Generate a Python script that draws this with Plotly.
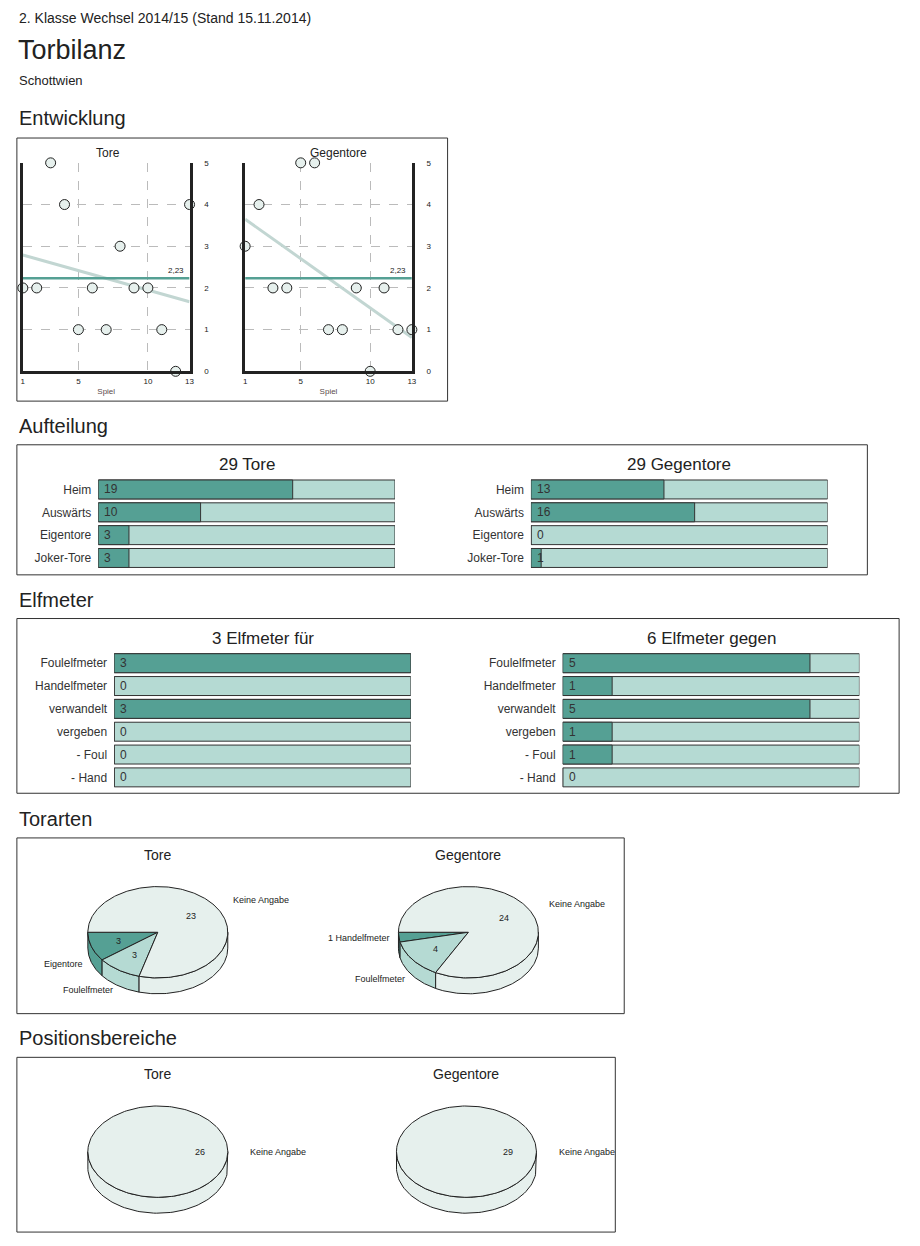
import numpy as np
import plotly.graph_objects as go

W, H = 920, 1246
DARK = "#55a094"
LIGHT = "#b5dad3"
PALE = "#e6f0ed"
FONT = "Liberation Sans, Arial, sans-serif"

# ---------------- data ----------------
spiele = list(range(1, 14))
tore_pro_spiel = [2, 2, 5, 4, 1, 2, 1, 3, 2, 2, 1, 0, 4]
gegentore_pro_spiel = [3, 4, 2, 2, 5, 5, 1, 1, 2, 0, 2, 1, 1]

auft_cats = ["Heim", "Auswärts", "Eigentore", "Joker-Tore"]
auft_tore = [19, 10, 3, 3]
auft_gegen = [13, 16, 0, 1]
total_tore = 29
total_gegen = 29

elf_cats = ["Foulelfmeter", "Handelfmeter", "verwandelt", "vergeben", "- Foul", "- Hand"]
elf_fuer = [3, 0, 3, 0, 0, 0]
elf_gegen = [5, 1, 5, 1, 1, 0]
elf_fuer_total = 3
elf_gegen_total = 6

art_labels_tore = ["Eigentore", "Foulelfmeter", "Keine Angabe"]
art_values_tore = [3, 3, 23]
art_labels_gegen = ["Handelfmeter", "Foulelfmeter", "Keine Angabe"]
art_values_gegen = [1, 4, 24]
art_colors = [DARK, LIGHT, PALE]

pos_labels = ["Keine Angabe"]
pos_values_tore = [26]
pos_values_gegen = [29]

fig = go.Figure()

def xd(a, b):
    return [a / W, b / W]

def yd(top, bot):
    return [1 - bot / H, 1 - top / H]

# pixel overlay axes (x, y)
fig.update_layout(
    xaxis=dict(domain=[0, 1], range=[0, W], visible=False, fixedrange=True),
    yaxis=dict(domain=[0, 1], range=[H, 0], visible=False, fixedrange=True),
)

shapes, ann = [], []

def txt(x, y, s, size=12, anchor="left", color="#222"):
    ann.append(dict(x=x, y=y, xref="x", yref="y", text=s, showarrow=False,
                    xanchor=anchor, yanchor="middle", font=dict(size=size, color=color, family=FONT)))

def box(x0, y0, x1, y1):
    shapes.append(dict(type="rect", xref="x", yref="y", x0=x0, y0=y0, x1=x1, y1=y1,
                       line=dict(color="#333", width=1), layer="below"))

txt(15, 14, "2. Klasse Wechsel 2014/15 (Stand 15.11.2014)", 14)
txt(14, 46, "Torbilanz", 27)
txt(15, 77, "Schottwien", 13)
for y, s in [(115, "Entwicklung"), (425, "Aufteilung"), (600, "Elfmeter"),
             (821, "Torarten"), (1042, "Positionsbereiche")]:
    txt(15, y, s, 20)
box(15, 135, 449, 400)
box(15, 444, 872, 575)
box(15, 619, 904, 795)
box(15, 840, 627, 1017)
box(15, 1061, 618, 1237)

# ---------------- line charts ----------------
def line_chart(n, x0, x1, values, title, cx):
    xa, ya = f"x{n}", f"y{n}"
    vals = np.array(values, dtype=float)
    xs = np.array(spiele, dtype=float)
    m, b = np.polyfit(xs, vals, 1)
    mean = vals.mean()
    fig.add_trace(go.Scatter(x=[xs[0], xs[-1]], y=[m * xs[0] + b, m * xs[-1] + b], mode="lines",
                             line=dict(color="#c2d6d2", width=3), xaxis=xa, yaxis=ya, hoverinfo="skip"))
    fig.add_trace(go.Scatter(x=[xs[0], xs[-1]], y=[mean, mean], mode="lines",
                             line=dict(color=DARK, width=2.5), xaxis=xa, yaxis=ya, hoverinfo="skip"))
    fig.add_trace(go.Scatter(x=xs, y=vals, mode="markers", cliponaxis=False,
                             marker=dict(size=10, color=PALE, line=dict(color="#222", width=1)),
                             xaxis=xa, yaxis=ya))
    ann.append(dict(x=xs[-1], y=mean, xref=xa, yref=ya, text=f"{mean:.2f}".replace(".", ","),
                    showarrow=False, xanchor="right", yanchor="bottom", xshift=-4, yshift=1,
                    font=dict(size=8, color="#222", family=FONT)))
    txt(cx, 150, title, 12)
    fig.layout[f"xaxis{n}"] = dict(domain=xd(x0, x1), range=[1, 13], tickvals=[1, 5, 10, 13],
                                   showgrid=True, gridcolor="#bbb", griddash="dash", gridwidth=1,
                                   showline=True, linecolor="#222", linewidth=3, zeroline=False,
                                   tickfont=dict(size=8, color="#222", family=FONT), ticks="",
                                   title=dict(text="Spiel", font=dict(size=8, color="#5a4a4a", family=FONT), standoff=4),
                                   anchor=ya, fixedrange=True)
    fig.layout[f"yaxis{n}"] = dict(domain=yd(160, 370), range=[0, 5], tickvals=[0, 1, 2, 3, 4, 5],
                                   side="right", showgrid=True, gridcolor="#bbb", griddash="dash",
                                   showline=True, mirror=True, linecolor="#222", linewidth=3,
                                   zeroline=False, ticks="", ticklabelstandoff=10,
                                   tickfont=dict(size=8, color="#222", family=FONT),
                                   anchor=xa, fixedrange=True)

line_chart(2, 21, 189, tore_pro_spiel, "Tore", 105 - 12)
line_chart(3, 245, 413, gegentore_pro_spiel, "Gegentore", 338 - 30)

# ---------------- bar charts ----------------
def bar_chart(n, x0, x1, top, bot, cats, values, total, title, title_y):
    xa, ya = f"x{n}", f"y{n}"
    fig.add_trace(go.Bar(y=cats, x=[total] * len(cats), orientation="h", marker=dict(color=LIGHT, line=dict(color="#333", width=1)),
                         width=0.83, xaxis=xa, yaxis=ya, hoverinfo="skip"))
    fig.add_trace(go.Bar(y=cats, x=values, orientation="h", marker=dict(color=DARK, line=dict(color="#333", width=1)),
                         width=0.83, xaxis=xa, yaxis=ya))
    for c, v in zip(cats, values):
        ann.append(dict(x=0, y=c, xref=xa, yref=ya, text=str(v), showarrow=False, xanchor="left",
                        xshift=4, font=dict(size=12, color="#333", family=FONT)))
    ann.append(dict(x=(x0 + x1) / 2, y=title_y, xref="x", yref="y", text=title, showarrow=False,
                    font=dict(size=17, color="#222", family=FONT)))
    fig.layout[f"xaxis{n}"] = dict(domain=xd(x0, x1), range=[0, total], visible=False, anchor=ya, fixedrange=True)
    fig.layout[f"yaxis{n}"] = dict(domain=yd(top, bot), autorange="reversed", anchor=xa, ticks="",
                                   showgrid=False, showline=False, ticklabelstandoff=6,
                                   tickfont=dict(size=12, color="#333", family=FONT), fixedrange=True)

bar_chart(4, 97, 396, 477.5, 569.5, auft_cats, auft_tore, total_tore, f"{total_tore} Tore", 464)
bar_chart(5, 533, 832, 477.5, 569.5, auft_cats, auft_gegen, total_gegen, f"{total_gegen} Gegentore", 464)
bar_chart(6, 113, 412, 652.5, 790.5, elf_cats, elf_fuer, elf_fuer_total, f"{elf_fuer_total} Elfmeter für", 639)
bar_chart(7, 565, 864, 652.5, 790.5, elf_cats, elf_gegen, elf_gegen_total, f"{elf_gegen_total} Elfmeter gegen", 639)

# ---------------- 3D-ish pies ----------------
RX, RY, DEPTH = 70.5, 46, 16

def ell(cx, cy, a_deg, dy=0):
    a = np.radians(a_deg)
    return cx + RX * np.cos(a), cy - RY * np.sin(a) + dy

def pie3d(cx, cy, labels, values, title):
    tot = sum(values)
    angs = [180.0]
    for v in values:
        angs.append(angs[-1] + v / tot * 360)
    cols = art_colors if len(values) > 1 else [PALE]
    # sides
    for i in range(len(values)):
        a1, a2 = max(angs[i], 180), min(angs[i + 1], 360)
        if a2 > a1:
            t = np.linspace(a1, a2, 80)
            xt, yt = ell(cx, cy, t)
            xb, yb = ell(cx, cy, t[::-1], DEPTH)
            fig.add_trace(go.Scatter(x=np.r_[xt, xb, xt[0]], y=np.r_[yt, yb, yt[0]], fill="toself",
                                     fillcolor=cols[i], mode="lines", line=dict(color="#222", width=1),
                                     hoverinfo="skip", xaxis="x", yaxis="y"))
    # tops
    for i in range(len(values)):
        t = np.linspace(angs[i], angs[i + 1], 200)
        xt, yt = ell(cx, cy, t)
        full = values[i] == tot
        xs = xt if full else np.r_[cx, xt, cx]
        ys = yt if full else np.r_[cy, yt, cy]
        fig.add_trace(go.Scatter(x=xs, y=ys, fill="toself", fillcolor=cols[i], mode="lines",
                                 line=dict(color="#222", width=1), hoverinfo="skip", xaxis="x", yaxis="y"))
    # labels
    for i in range(len(values)):
        mid = (angs[i] + angs[i + 1]) / 2 % 360
        right = np.cos(np.radians(mid)) >= 0
        lab = labels[i]
        if values[i] >= 2:
            x, y = ell(cx, cy, mid)
            txt(cx + 0.6 * (x - cx), cy + 0.6 * (y - cy), str(values[i]), 9, "center")
        else:
            lab = f"{values[i]} {lab}"
        k = 1.18 if right else 1.1
        x, y = ell(cx, cy, mid)
        dy = DEPTH if 180 < mid < 360 and values[i] >= 2 else 0
        txt(cx + k * (x - cx) + (8 if right else 0), cy + k * (y - cy) + dy, lab, 9,
            "left" if right else "right")
    txt(cx, cy - 78, title, 14, "center")

pie3d(157, 935, art_labels_tore, art_values_tore, "Tore")
pie3d(470, 935, art_labels_gegen, art_values_gegen, "Gegentore")
pie3d(157, 1156, pos_labels, pos_values_tore, "Tore")
pie3d(468, 1156, pos_labels, pos_values_gegen, "Gegentore")

fig.update_layout(width=W, height=H, margin=dict(l=0, r=0, t=0, b=0), showlegend=False,
                  barmode="overlay", plot_bgcolor="white", paper_bgcolor="white",
                  shapes=shapes, annotations=ann, font=dict(family=FONT))
fig.write_html("out.html", config={"displayModeBar": False},
               post_script="document.body.style.margin='0';")
